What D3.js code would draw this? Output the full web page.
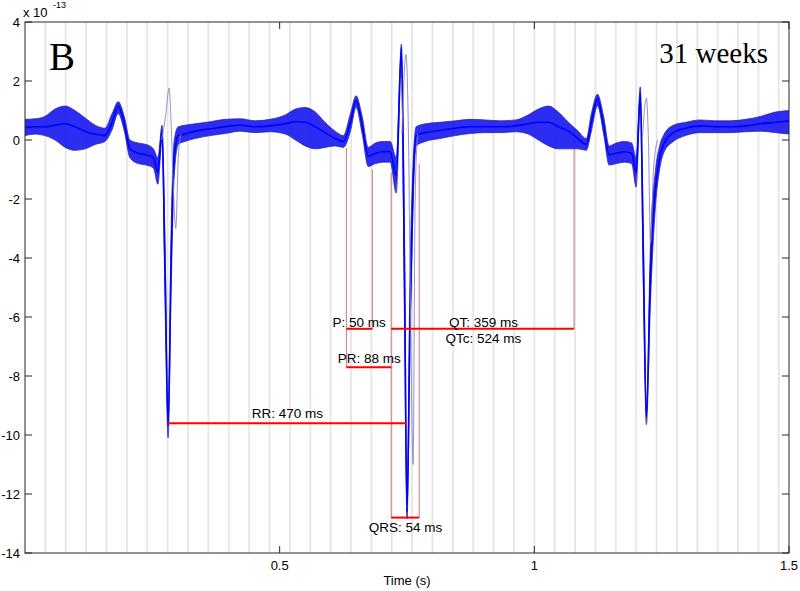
<!DOCTYPE html>
<html>
<head>
<meta charset="utf-8">
<script src="https://cdn.jsdelivr.net/npm/d3@7"></script>
<style>
  body { margin: 0; background: #fff; }
  text { font-family: "Liberation Sans", Arial, sans-serif; }
</style>
</head>
<body>
<div id="chart"></div>
<script>
var svgWidth = 800;
var svgHeight = 591;

var margin = { top: 22, right: 11, bottom: 38, left: 25 };
var width = svgWidth - margin.left - margin.right;
var height = svgHeight - margin.top - margin.bottom;

// sample times (s) of the overlaid traces
var tKey = [0, 0.020, 0.039, 0.059, 0.079, 0.098, 0.118, 0.138, 0.157, 0.171,
  0.183, 0.195, 0.206, 0.222, 0.238, 0.252, 0.261, 0.269, 0.275, 0.281,
  0.287, 0.293, 0.301, 0.314, 0.334, 0.364, 0.393, 0.422, 0.452, 0.481,
  0.511, 0.531, 0.550, 0.570, 0.589, 0.609, 0.625, 0.639, 0.650, 0.662,
  0.674, 0.688, 0.703, 0.717, 0.729, 0.739, 0.745, 0.750, 0.756, 0.762,
  0.768, 0.786, 0.815, 0.845, 0.874, 0.904, 0.933, 0.963, 0.988, 1.008,
  1.028, 1.047, 1.067, 1.086, 1.102, 1.112, 1.124, 1.136, 1.147, 1.161,
  1.177, 1.191, 1.200, 1.208, 1.214, 1.220, 1.228, 1.238, 1.246, 1.255,
  1.273, 1.297, 1.326, 1.356, 1.385, 1.415, 1.444, 1.474, 1.5];

// centre of the bundle (x 1e-13)
var midVals = [0.42, 0.45, 0.45, 0.5, 0.55, 0.45, 0.3, 0.2, 0.15, 0.6,
  1.15, 0.55, -0.3, -0.45, -0.5, -0.6, -1.1, 0.3, -4.5, -9.7,
  -4.0, -0.6, 0.15, 0.2, 0.3, 0.38, 0.45, 0.5, 0.45, 0.48,
  0.55, 0.62, 0.6, 0.45, 0.25, 0.05, -0.05, 0.6, 1.35, 0.5,
  -0.55, -0.45, -0.4, -0.4, -1.2, 3.1, -4.5, -12.6, -6.0, -1.5,
  0.15, 0.25, 0.32, 0.4, 0.45, 0.45, 0.45, 0.48, 0.55, 0.6,
  0.6, 0.45, 0.3, 0.05, -0.15, 0.6, 1.4, 0.5, -0.5, -0.45,
  -0.4, -0.45, -1.1, 1.6, -4.0, -9.4, -4.5, -1.6, -0.6, -0.1,
  0.25, 0.4, 0.48, 0.45, 0.45, 0.48, 0.55, 0.6, 0.65];

// upper edge of the bundle
var upVals = [0.7, 0.72, 0.8, 1.05, 1.15, 1.0, 0.75, 0.5, 0.4, 0.9,
  1.3, 0.8, 0.0, -0.1, -0.15, -0.3, -0.6, 0.5, -3.5, -9.5,
  -3.0, 0.0, 0.45, 0.5, 0.55, 0.62, 0.7, 0.72, 0.65, 0.7,
  0.85, 1.05, 1.1, 0.95, 0.6, 0.3, 0.15, 0.9, 1.5, 0.8,
  -0.25, -0.1, -0.05, -0.05, -0.6, 3.25, -3.0, -12.3, -4.5, -0.8,
  0.45, 0.55, 0.6, 0.65, 0.7, 0.68, 0.65, 0.68, 0.85, 1.05,
  1.15, 0.95, 0.6, 0.3, 0.05, 0.9, 1.55, 0.8, -0.2, -0.1,
  -0.05, -0.1, -0.6, 1.8, -3.0, -9.2, -3.5, -1.0, -0.2, 0.2,
  0.5, 0.6, 0.68, 0.65, 0.65, 0.7, 0.8, 0.95, 1.0];

// lower edge of the bundle
var loVals = [0.15, 0.2, 0.15, 0.0, -0.25, -0.35, -0.3, -0.15, -0.05, 0.35,
  0.9, 0.3, -0.6, -0.8, -0.85, -0.95, -1.5, 0.0, -5.5, -10.1,
  -5.0, -1.2, -0.15, -0.05, 0.05, 0.15, 0.22, 0.3, 0.25, 0.28,
  0.2, 0.0, -0.2, -0.3, -0.25, -0.2, -0.25, 0.3, 1.1, 0.2,
  -0.9, -0.8, -0.75, -0.75, -1.8, 2.6, -6.0, -12.85, -7.0, -2.2,
  -0.2, -0.05, 0.05, 0.15, 0.22, 0.25, 0.25, 0.28, 0.2, 0.0,
  -0.2, -0.3, -0.3, -0.3, -0.35, 0.3, 1.15, 0.2, -0.85, -0.8,
  -0.75, -0.8, -1.6, 1.2, -5.0, -9.65, -5.5, -2.2, -1.0, -0.4,
  -0.05, 0.15, 0.25, 0.25, 0.25, 0.28, 0.3, 0.25, 0.2];

// the odd, late trace (pale purple)
var oddT = [0.268, 0.276, 0.283, 0.287, 0.291, 0.296, 0.301, 0.306,
  0.740, 0.748, 0.753, 0.757, 0.762, 0.766, 0.771,
  1.212, 1.220, 1.224, 1.228, 1.234, 1.242];
var oddV = [0.0, 0.8, 1.76, 0.5, -1.5, -3.0, -0.6, 0.2,
  0.2, 2.9, 0.0, -6.0, -11.0, -2.0, 0.2,
  0.0, 1.42, 0.0, -3.5, -1.0, 0.0];
var oddBreaks = [8, 15];

// measured intervals
var intervals = [
  { name: "RR: 470 ms", t0: 0.281, t1: 0.750, v: -9.6 },
  { name: "P: 50 ms", t0: 0.631, t1: 0.682, v: -6.4 },
  { name: "PR: 88 ms", t0: 0.631, t1: 0.719, v: -7.7 },
  { name: "QT: 359 ms", t0: 0.719, t1: 1.078, v: -6.4 },
  { name: "QRS: 54 ms", t0: 0.719, t1: 0.774, v: -12.8 }
];
var markerT = [0.631, 0.682, 0.719, 0.774, 1.078];
var markerTop = [-0.27, -1.0, -1.1, -0.8, -0.27];
var markerBottom = [-7.7, -6.4, -12.8, -12.8, -6.4];

var yTicks = [4, 2, 0, -2, -4, -6, -8, -10, -12, -14];
var xTicks = [0.5, 1, 1.5];

var svg = d3.select("#chart")
  .append("svg")
  .attr("width", svgWidth)
  .attr("height", svgHeight);

var chartGroup = svg.append("g")
  .attr("transform", `translate(${margin.left}, ${margin.top})`);

var xScale = d3.scaleLinear().domain([0, 1.5]).range([0, width]);
var yScale = d3.scaleLinear().domain([-14, 4]).range([height, 0]);

svg.append("defs").append("clipPath").attr("id", "plot")
  .append("rect").attr("width", width).attr("height", height);

var plot = chartGroup.append("g").attr("clip-path", "url(#plot)");

// 40 ms paper grid
plot.append("g").selectAll("line")
  .data(d3.range(1, 38).map(k => k * 0.04))
  .enter().append("line")
  .attr("x1", d => xScale(d)).attr("x2", d => xScale(d))
  .attr("y1", 0).attr("y2", height)
  .attr("stroke", "#e6e6e6")
  .attr("stroke-width", 1.8);

// marker lines
plot.append("g").selectAll("line")
  .data(markerT)
  .enter().append("line")
  .attr("x1", d => xScale(d)).attr("x2", d => xScale(d))
  .attr("y1", (d, i) => yScale(markerTop[i]))
  .attr("y2", (d, i) => yScale(markerBottom[i]))
  .attr("stroke", "#c87a7a")
  .attr("stroke-width", 1);

var rows = tKey.map((t, i) => ({ t: t, mid: midVals[i], up: upVals[i], lo: loVals[i] }));

var band = d3.area()
  .x(d => xScale(d.t))
  .y0(d => yScale(d.lo))
  .y1(d => yScale(d.up))
  .curve(d3.curveMonotoneX);

plot.append("path")
  .datum(rows)
  .attr("d", band)
  .attr("fill", "#1a1af2")
  .attr("fill-opacity", 0.92);

["up", "lo", "mid"].forEach(function (key) {
  var line = d3.line()
    .x(d => xScale(d.t))
    .y(d => yScale(d[key]))
    .curve(d3.curveMonotoneX);
  plot.append("path")
    .datum(rows)
    .attr("d", line)
    .attr("fill", "none")
    .attr("stroke", key === "mid" ? "#0000ff" : "#2a2aa0")
    .attr("stroke-width", key === "mid" ? 1.6 : 0.8);
});

// odd trace, three pieces
var oddLine = d3.line()
  .x(d => xScale(d[0]))
  .y(d => yScale(d[1]))
  .curve(d3.curveMonotoneX);
var cuts = [0].concat(oddBreaks).concat([oddT.length]);
for (var c = 0; c < cuts.length - 1; c++) {
  var seg = d3.range(cuts[c], cuts[c + 1]).map(i => [oddT[i], oddV[i]]);
  plot.append("path")
    .datum(seg)
    .attr("d", oddLine)
    .attr("fill", "none")
    .attr("stroke", "#8a86c0")
    .attr("stroke-width", 0.9);
}

// interval bars
plot.append("g").selectAll("line")
  .data(intervals)
  .enter().append("line")
  .attr("x1", d => xScale(d.t0)).attr("x2", d => xScale(d.t1))
  .attr("y1", d => yScale(d.v)).attr("y2", d => yScale(d.v))
  .attr("stroke", "#ff0000")
  .attr("stroke-width", 2);

// interval labels
var labelPos = {
  "RR: 470 ms": [0.515, -5],
  "P: 50 ms": [0.656, -2],
  "PR: 88 ms": [0.676, -4],
  "QT: 359 ms": [0.900, -2],
  "QRS: 54 ms": [0.747, 14]
};
chartGroup.selectAll(".ilabel")
  .data(intervals)
  .enter().append("text")
  .attr("class", "ilabel")
  .attr("x", d => xScale(labelPos[d.name][0]))
  .attr("y", d => yScale(d.v) + labelPos[d.name][1])
  .attr("text-anchor", "middle")
  .attr("font-size", 13.5)
  .attr("fill", "#000")
  .text(d => d.name);

chartGroup.append("text")
  .attr("x", xScale(0.900))
  .attr("y", yScale(-6.4) + 14)
  .attr("text-anchor", "middle")
  .attr("font-size", 13.5)
  .text("QTc: 524 ms");

// box and ticks, ticks pointing in like the original
var frame = chartGroup.append("g").attr("stroke", "#262626").attr("stroke-width", 1);
frame.append("rect")
  .attr("width", width).attr("height", height)
  .attr("fill", "none");

yTicks.forEach(function (v) {
  frame.append("line").attr("x1", 0).attr("x2", 7)
    .attr("y1", yScale(v)).attr("y2", yScale(v));
  frame.append("line").attr("x1", width).attr("x2", width - 7)
    .attr("y1", yScale(v)).attr("y2", yScale(v));
});
xTicks.forEach(function (v) {
  frame.append("line").attr("x1", xScale(v)).attr("x2", xScale(v))
    .attr("y1", height).attr("y2", height - 7);
  frame.append("line").attr("x1", xScale(v)).attr("x2", xScale(v))
    .attr("y1", 0).attr("y2", 7);
});

chartGroup.selectAll(".ylab")
  .data(yTicks)
  .enter().append("text")
  .attr("class", "ylab")
  .attr("x", -5)
  .attr("y", d => yScale(d))
  .attr("dy", "0.35em")
  .attr("text-anchor", "end")
  .attr("font-size", 13)
  .text(d => d);

chartGroup.selectAll(".xlab")
  .data(xTicks)
  .enter().append("text")
  .attr("class", "xlab")
  .attr("x", d => xScale(d))
  .attr("y", height + 17)
  .attr("text-anchor", "middle")
  .attr("font-size", 13)
  .text(d => d);

chartGroup.append("text")
  .attr("x", width / 2)
  .attr("y", height + 32)
  .attr("text-anchor", "middle")
  .attr("font-size", 13)
  .text("Time (s)");

// exponent
svg.append("text").attr("x", 23).attr("y", 17).attr("font-size", 13).text("x 10");
svg.append("text").attr("x", 53).attr("y", 8).attr("font-size", 9).text("-13");

// panel labels
svg.append("text")
  .attr("x", 49).attr("y", 70)
  .style("font-family", "'Liberation Serif', 'Times New Roman', serif")
  .attr("font-size", 39)
  .text("B");

svg.append("text")
  .attr("x", 768).attr("y", 63)
  .attr("text-anchor", "end")
  .style("font-family", "'Liberation Serif', 'Times New Roman', serif")
  .attr("font-size", 29)
  .text("31 weeks");
</script>
</body>
</html>
